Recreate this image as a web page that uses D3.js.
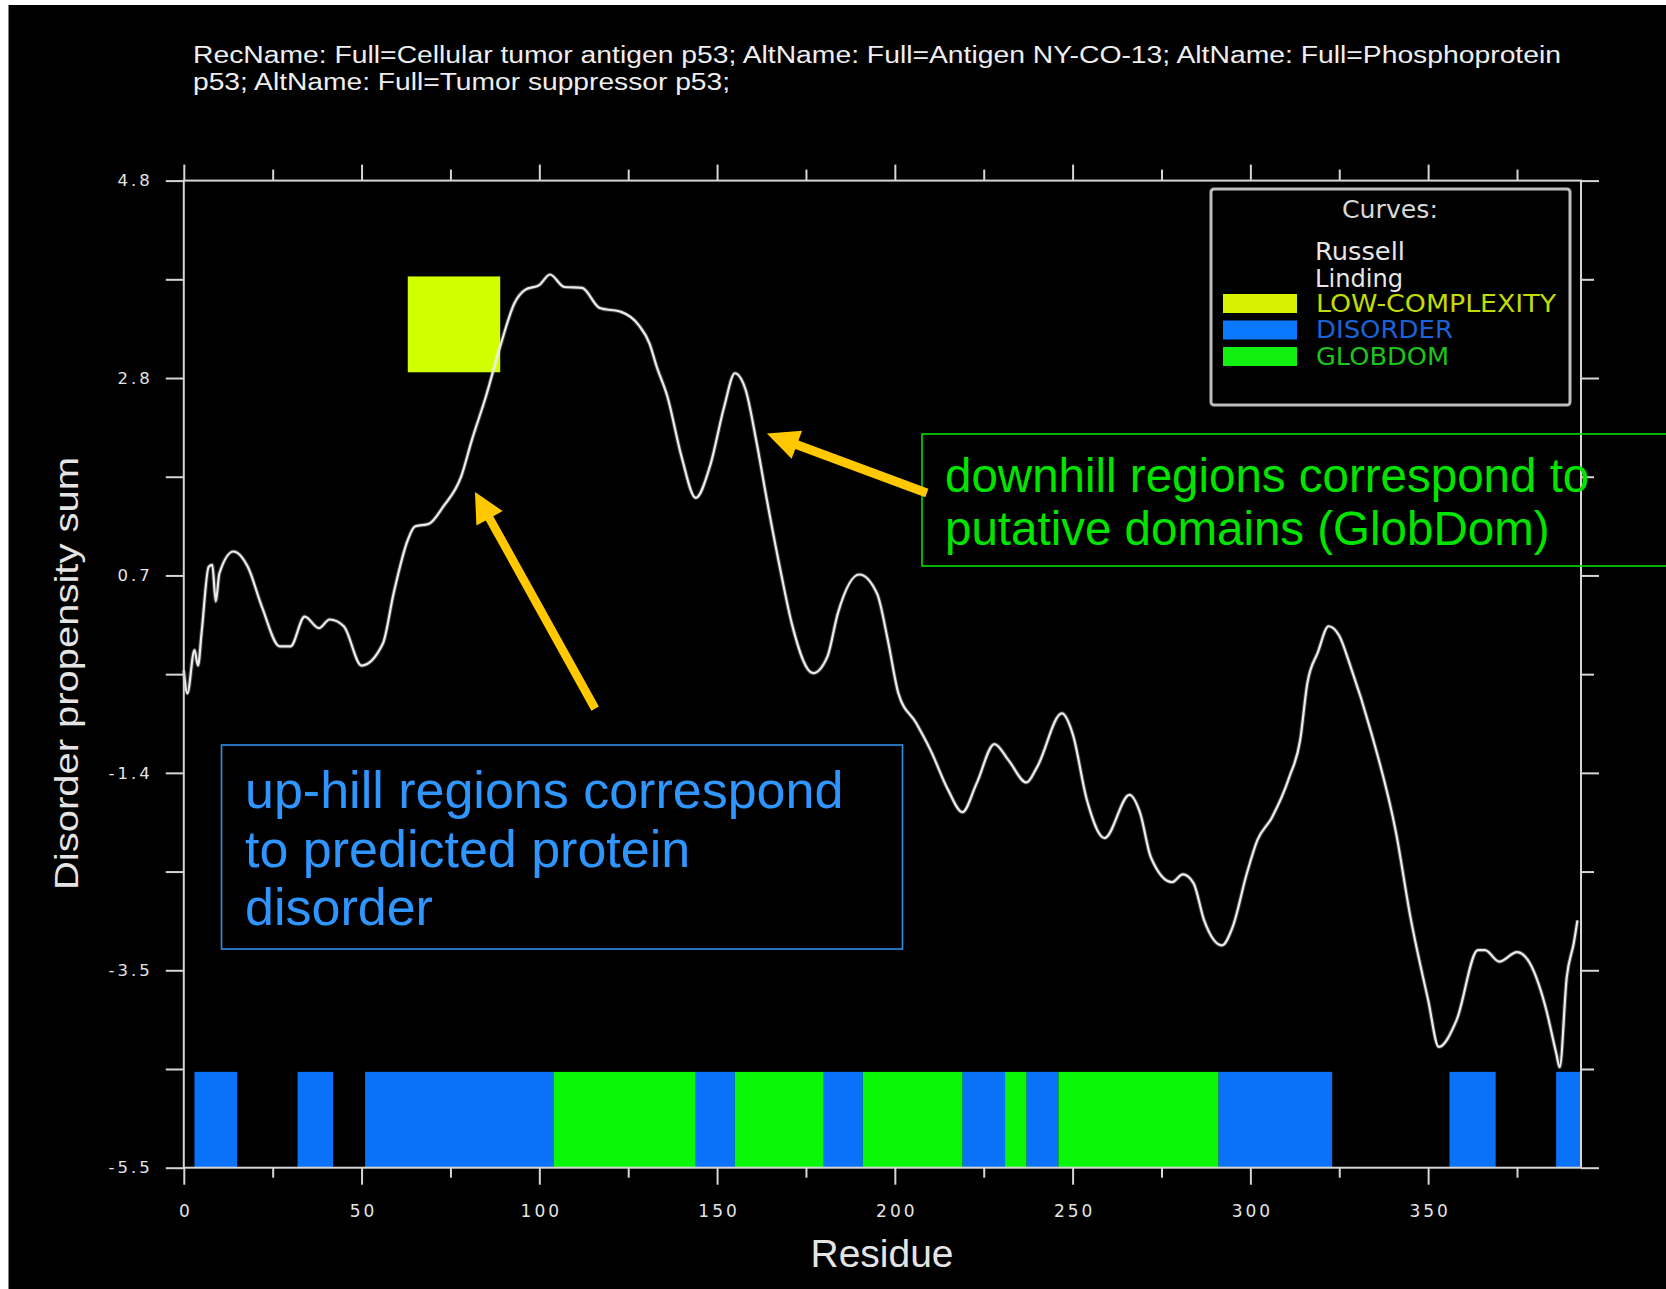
<!DOCTYPE html>
<html>
<head>
<meta charset="utf-8">
<script src="https://cdn.jsdelivr.net/npm/d3@7"></script>
<style>
  html, body { margin: 0; padding: 0; background: #fff; }
  svg { display: block; }
</style>
</head>
<body>
<svg id="chart" width="1666" height="1289"></svg>
<script>
// ---- data -------------------------------------------------------------
const titleLines = [
  "RecName: Full=Cellular tumor antigen p53; AltName: Full=Antigen NY-CO-13; AltName: Full=Phosphoprotein",
  "p53; AltName: Full=Tumor suppressor p53;"
];

// Disorder propensity sum along the sequence (GlobPlot, Russell/Linding)
const residue = [0,1,3,4,5,7,8,9,10,14,18,22,27,30,34,38,41,45,50,56,59,63,65,69,73,78,81,85,89,93,96,100,103,107,112,117,123,128,131,133,136,140,144,148,152,155,158,161,164,168,171,177,181,184,190,195,198,201,206,210,215,219,223,228,232,237,240,247,250,254,259,266,269,272,278,281,284,287,292,295,299,302,306,311,314,316,319,322,325,328,334,341,345,350,353,358,364,366,370,375,378,383,386,387,389,391,392];
const propensity = [-0.31,-0.55,-0.10,-0.26,0.08,0.77,0.79,0.41,0.70,0.93,0.77,0.35,-0.06,-0.06,0.25,0.13,0.22,0.15,-0.26,-0.03,0.49,1.05,1.19,1.22,1.40,1.71,2.09,2.55,3.07,3.52,3.66,3.71,3.82,3.69,3.68,3.47,3.43,3.29,3.10,2.86,2.55,1.92,1.49,1.82,2.44,2.79,2.62,2.09,1.47,0.70,0.18,-0.34,-0.17,0.29,0.69,0.49,0.01,-0.55,-0.86,-1.14,-1.56,-1.79,-1.49,-1.08,-1.25,-1.48,-1.32,-0.76,-0.97,-1.66,-2.06,-1.61,-1.80,-2.26,-2.52,-2.44,-2.53,-2.92,-3.18,-2.99,-2.43,-2.08,-1.85,-1.42,-1.04,-0.45,-0.12,0.15,0.05,-0.25,-0.96,-2.01,-2.88,-3.75,-4.24,-3.96,-3.23,-3.23,-3.35,-3.25,-3.33,-3.82,-4.30,-4.45,-3.51,-3.15,-2.92];

const disorderRegions = [[3,15],[32,42],[51,104],[144,155],[180,191],[219,231],[237,246],[291,323],[356,369],[386,393]];
const globdomRegions  = [[104,144],[155,180],[191,219],[231,237],[246,291]];
const lowComplexityRegions = [[63,89]];
const lowComplexityBand = [2.8, 3.8];
const regionTrack = [-5.5, -4.5];

const seqLength = 393;
const yDomain = [-5.5, 4.8];
const xTicks = [0,50,100,150,200,250,300,350];
const xMinorTicks = [25,75,125,175,225,275,325,375];
const yTickLabels = ["-5.5","-3.5","-1.4","0.7","2.8","4.8"];

const legendTitle = "Curves:";
const legendCurves = ["Russell", "Linding"];
const legendRegions = [
  { name: "LOW-COMPLEXITY", fill: "#d6f200", text: "#c2dc00", len: 240 },
  { name: "DISORDER",       fill: "#0a78ff", text: "#1a62d8", len: 137 },
  { name: "GLOBDOM",        fill: "#12f012", text: "#1cc41c", len: 133 }
];

const noteDisorder = ["up-hill regions correspond", "to predicted protein", "disorder"];
const noteDomain = ["downhill regions correspond to", "putative domains (GlobDom)"];
// arrow ends in (residue, propensity) coordinates: [tail, tip]
const arrowDisorder = [[115.7, -0.71], [81.9, 1.55]];
const arrowDomain = [[209.0, 1.54], [164.0, 2.16]];

// ---- scales -----------------------------------------------------------
const x = d3.scaleLinear().domain([0, seqLength]).range([183.8, 1581]);
const y = d3.scaleLinear().domain(yDomain).range([1167.7, 180.6]);

const yMajor = yTickLabels.map((_, i) => yDomain[0] + i * (yDomain[1] - yDomain[0]) / (yTickLabels.length - 1));
const yMinor = yMajor.slice(1).map((v, i) => (v + yMajor[i]) / 2);

const svg = d3.select("#chart");
const AX = "#d6d6d6";

// black drawing area
svg.append("rect").attr("x", 8.5).attr("y", 5).attr("width", 1666).attr("height", 1289).attr("fill", "#000");

// ---- title ------------------------------------------------------------
const titleG = svg.append("g")
  .attr("font-family", "'Liberation Sans', Arial, sans-serif")
  .attr("font-size", 23).attr("fill", "#eeeeee");
titleG.append("text").attr("x", 193).attr("y", 62.5)
  .attr("textLength", 1368).attr("lengthAdjust", "spacingAndGlyphs").text(titleLines[0]);
titleG.append("text").attr("x", 193).attr("y", 90)
  .attr("textLength", 537).attr("lengthAdjust", "spacingAndGlyphs").text(titleLines[1]);

// ---- region track -----------------------------------------------------
const trackG = svg.append("g");
function drawRegions(regions, color) {
  trackG.selectAll(null).data(regions).enter().append("rect")
    .attr("x", d => x(d[0]))
    .attr("width", d => x(d[1]) - x(d[0]))
    .attr("y", y(regionTrack[1]))
    .attr("height", y(regionTrack[0]) - y(regionTrack[1]))
    .attr("fill", color);
}
drawRegions(disorderRegions, "#0a72f8");
drawRegions(globdomRegions, "#0af70a");

// low-complexity block
svg.append("g").selectAll("rect").data(lowComplexityRegions).enter().append("rect")
  .attr("x", d => x(d[0]))
  .attr("width", d => x(d[1]) - x(d[0]))
  .attr("y", y(lowComplexityBand[1]))
  .attr("height", y(lowComplexityBand[0]) - y(lowComplexityBand[1]))
  .attr("fill", "#d2ff00");

// ---- propensity curve -------------------------------------------------
const points = residue.map((r, i) => [r, propensity[i]]);
const line = d3.line().x(d => x(d[0])).y(d => y(d[1])).curve(d3.curveMonotoneX);
svg.append("path").datum(points).attr("d", line)
  .attr("fill", "none").attr("stroke", "#ffffff").attr("stroke-opacity", 0.25)
  .attr("stroke-width", 4.2).attr("stroke-linejoin", "round");
svg.append("path").datum(points).attr("d", line)
  .attr("fill", "none").attr("stroke", "#ececec")
  .attr("stroke-width", 2.2).attr("stroke-linejoin", "round");

// ---- axes -------------------------------------------------------------
function styleAxis(g) {
  g.select(".domain").remove();
  g.selectAll(".tick line").attr("stroke", AX).attr("stroke-width", 2);
  g.selectAll(".tick text").attr("fill", "#e4e4e4")
    .attr("font-family", "'DejaVu Sans', sans-serif");
}

// bottom
svg.append("g").attr("transform", `translate(0,${y(yDomain[0])})`)
  .call(d3.axisBottom(x).tickValues(xTicks).tickSize(17).tickPadding(20).tickFormat(d3.format("d")))
  .call(styleAxis)
  .call(g => g.selectAll(".tick text").attr("font-size", 17).attr("letter-spacing", 3).attr("dx", 1.5));
svg.append("g").attr("transform", `translate(0,${y(yDomain[0])})`)
  .call(d3.axisBottom(x).tickValues(xMinorTicks).tickSize(10).tickFormat(""))
  .call(styleAxis);

// top
svg.append("g").attr("transform", `translate(0,${y(yDomain[1])})`)
  .call(d3.axisTop(x).tickValues(xTicks).tickSize(16).tickFormat(""))
  .call(styleAxis);
svg.append("g").attr("transform", `translate(0,${y(yDomain[1])})`)
  .call(d3.axisTop(x).tickValues(xMinorTicks).tickSize(11).tickFormat(""))
  .call(styleAxis);

// left
svg.append("g").attr("transform", `translate(${x(0)},0)`)
  .call(d3.axisLeft(y).tickValues(yMajor).tickSize(18).tickPadding(13).tickFormat((d, i) => yTickLabels[i]))
  .call(styleAxis)
  .call(g => g.selectAll(".tick text").attr("font-size", 16.5).attr("letter-spacing", 3));
svg.append("g").attr("transform", `translate(${x(0)},0)`)
  .call(d3.axisLeft(y).tickValues(yMinor).tickSize(18).tickFormat(""))
  .call(styleAxis);

// right
svg.append("g").attr("transform", `translate(${x(seqLength)},0)`)
  .call(d3.axisRight(y).tickValues(yMajor).tickSize(18).tickFormat(""))
  .call(styleAxis);
svg.append("g").attr("transform", `translate(${x(seqLength)},0)`)
  .call(d3.axisRight(y).tickValues(yMinor).tickSize(13).tickFormat(""))
  .call(styleAxis);

// frame
svg.append("rect")
  .attr("x", x(0)).attr("y", y(yDomain[1]))
  .attr("width", x(seqLength) - x(0)).attr("height", y(yDomain[0]) - y(yDomain[1]))
  .attr("fill", "none").attr("stroke", AX).attr("stroke-width", 2);

// axis titles
svg.append("text")
  .attr("x", 882).attr("y", 1267)
  .attr("text-anchor", "middle")
  .attr("font-family", "'Liberation Sans', Arial, sans-serif")
  .attr("font-size", 38).attr("fill", "#e4e4e4")
  .attr("textLength", 143).attr("lengthAdjust", "spacingAndGlyphs")
  .text("Residue");

svg.append("text")
  .attr("transform", "translate(78,673.5) rotate(-90)")
  .attr("text-anchor", "middle")
  .attr("font-family", "'Liberation Sans', Arial, sans-serif")
  .attr("font-size", 33).attr("fill", "#e4e4e4")
  .attr("textLength", 433).attr("lengthAdjust", "spacingAndGlyphs")
  .text("Disorder propensity sum");

// ---- legend -----------------------------------------------------------
const lg = svg.append("g").attr("font-family", "'DejaVu Sans', sans-serif").attr("font-size", 24);
lg.append("rect").attr("x", 1211).attr("y", 189).attr("width", 359).attr("height", 216)
  .attr("rx", 3).attr("fill", "#000").attr("stroke", "#bdbdbd").attr("stroke-width", 3);
lg.append("text").attr("x", 1342).attr("y", 218).attr("fill", "#d8d8d8")
  .attr("textLength", 96).attr("lengthAdjust", "spacingAndGlyphs").text(legendTitle);
lg.selectAll("text.curve").data(legendCurves).enter().append("text")
  .attr("class", "curve")
  .attr("x", 1315).attr("y", (d, i) => 260 + i * 26.5)
  .attr("fill", "#e6e6e6")
  .attr("textLength", (d, i) => i === 0 ? 90 : 88).attr("lengthAdjust", "spacingAndGlyphs")
  .text(d => d);
const lr = lg.selectAll("g.reg").data(legendRegions).enter().append("g").attr("class", "reg");
lr.append("rect").attr("x", 1223).attr("y", (d, i) => 294 + i * 26.5)
  .attr("width", 74).attr("height", 19).attr("fill", d => d.fill);
lr.append("text").attr("x", 1316).attr("y", (d, i) => 311.5 + i * 26.5)
  .attr("fill", d => d.text)
  .attr("textLength", d => d.len).attr("lengthAdjust", "spacingAndGlyphs")
  .text(d => d.name);

// ---- notes ------------------------------------------------------------
const noteFont = "'Liberation Sans', Arial, sans-serif";
svg.append("rect").attr("x", 922).attr("y", 434).attr("width", 800).attr("height", 132)
  .attr("fill", "none").attr("stroke", "#00dd00").attr("stroke-width", 1.6);
svg.append("g").selectAll("text").data(noteDomain).enter().append("text")
  .attr("x", 945).attr("y", (d, i) => 491.5 + i * 53.5)
  .attr("font-family", noteFont).attr("font-size", 47.5).attr("fill", "#00e400")
  .text(d => d);

svg.append("rect").attr("x", 221.5).attr("y", 745).attr("width", 681).attr("height", 204)
  .attr("fill", "none").attr("stroke", "#2e8fe8").attr("stroke-width", 1.6);
svg.append("g").selectAll("text").data(noteDisorder).enter().append("text")
  .attr("x", 245).attr("y", (d, i) => 808 + i * 58.5)
  .attr("font-family", noteFont).attr("font-size", 52).attr("fill", "#2f95ff")
  .text(d => d);

// ---- arrows -----------------------------------------------------------
function arrowPath(ends, headLen, headHalf, shaftHalf) {
  const [tx, ty] = [x(ends[0][0]), y(ends[0][1])];
  const [px, py] = [x(ends[1][0]), y(ends[1][1])];
  const len = Math.hypot(px - tx, py - ty);
  const ux = (px - tx) / len, uy = (py - ty) / len;
  const nx = -uy, ny = ux;
  const bx = px - ux * headLen, by = py - uy * headLen;
  const pts = [
    [tx + nx * shaftHalf, ty + ny * shaftHalf],
    [bx + nx * shaftHalf, by + ny * shaftHalf],
    [bx + nx * headHalf, by + ny * headHalf],
    [px, py],
    [bx - nx * headHalf, by - ny * headHalf],
    [bx - nx * shaftHalf, by - ny * shaftHalf],
    [tx - nx * shaftHalf, ty - ny * shaftHalf]
  ];
  return "M" + pts.map(p => p.join(",")).join("L") + "Z";
}
svg.append("path").attr("d", arrowPath(arrowDisorder, 30, 15, 4.3)).attr("fill", "#ffc800");
svg.append("path").attr("d", arrowPath(arrowDomain, 32, 15, 4.5)).attr("fill", "#ffc800");
</script>
</body>
</html>
